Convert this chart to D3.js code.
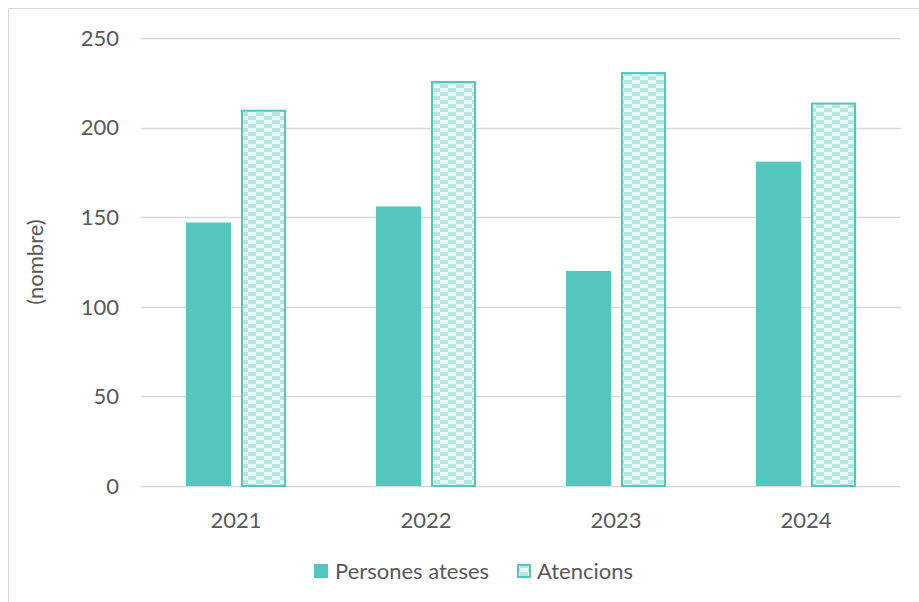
<!DOCTYPE html>
<html><head><meta charset="utf-8">
<script src="https://cdn.jsdelivr.net/npm/d3@7"></script>
<style>body{margin:0;background:#fff}svg{display:block;font-family:Lato,"Open Sans",sans-serif}</style>
</head><body>
<svg id="c" width="919" height="602"></svg>
<script>
const years = ["2021","2022","2023","2024"];
const persones = [147,156,120,181];
const atencions = [210,226,231,214];
const yTicks = [0,50,100,150,200,250];
const seriesNames = ["Persones ateses","Atencions"];

const svg = d3.select("#c");
const teal = "#53c7bd";
const textCol = "#595959";
const fs = 22;
const defs = svg.append("defs");
const pat = defs.append("pattern").attr("id","chk").attr("patternUnits","userSpaceOnUse")
  .attr("width",16).attr("height",8);
pat.append("rect").attr("width",16).attr("height",8).attr("fill","#eaf8f6");
pat.append("rect").attr("x",0).attr("y",0).attr("width",8).attr("height",4).attr("fill","#b5e6e1");
pat.append("rect").attr("x",8).attr("y",4).attr("width",8).attr("height",4).attr("fill","#b5e6e1");

svg.append("rect").attr("x",8.5).attr("y",8.5).attr("width",1000).attr("height",1000)
  .attr("fill","none").attr("stroke","#d9d9d9");

const x = d3.scaleBand().domain(years).range([141,901]);
const y = d3.scaleLinear().domain([0,250]).range([486,38]);

const g = svg.append("g");
g.selectAll(".grid").data(yTicks).join("line")
  .attr("x1",141).attr("x2",901).attr("y1",d=>Math.round(y(d))+0.5).attr("y2",d=>Math.round(y(d))+0.5)
  .attr("stroke","#d9d9d9").attr("stroke-width",1.3);

g.selectAll(".yl").data(yTicks).join("text")
  .attr("x",119).attr("y",d=>y(d)).attr("dy","0.35em").attr("text-anchor","end")
  .attr("fill",textCol).attr("font-size",fs).text(d=>d);

const bw = 45, gap = 10;
g.selectAll(".b1").data(years).join("rect")
  .attr("x",d=>x(d)+x.bandwidth()/2-gap/2-bw).attr("width",bw)
  .attr("y",(d,i)=>y(persones[i])).attr("height",(d,i)=>y(0)-y(persones[i]))
  .attr("fill",teal);
g.selectAll(".b2").data(years).join("rect")
  .attr("x",d=>x(d)+x.bandwidth()/2+gap/2+1).attr("width",bw-2)
  .attr("y",(d,i)=>y(atencions[i])+1).attr("height",(d,i)=>y(0)-y(atencions[i])-1)
  .attr("fill","url(#chk)").attr("stroke",teal).attr("stroke-width",2);

g.selectAll(".xl").data(years).join("text")
  .attr("x",d=>x(d)+x.bandwidth()/2).attr("y",520).attr("dy","0.35em")
  .attr("text-anchor","middle").attr("fill",textCol).attr("font-size",fs).text(d=>d);

svg.append("text").attr("transform","translate(35,262) rotate(-90)").attr("dy","0.35em")
  .attr("text-anchor","middle").attr("fill",textCol).attr("font-size",fs).text("(nombre)");

const lg = svg.append("g");
lg.append("rect").attr("x",314).attr("y",564).attr("width",14).attr("height",14).attr("fill",teal);
lg.append("text").attr("x",335).attr("y",571).attr("dy","0.35em").attr("fill",textCol).attr("font-size",fs).text(seriesNames[0]);
lg.append("rect").attr("x",518).attr("y",565).attr("width",12).attr("height",12).attr("fill","url(#chk)").attr("stroke",teal).attr("stroke-width",2);
lg.append("text").attr("x",537).attr("y",571).attr("dy","0.35em").attr("fill",textCol).attr("font-size",fs).text(seriesNames[1]);
</script>
</body></html>
